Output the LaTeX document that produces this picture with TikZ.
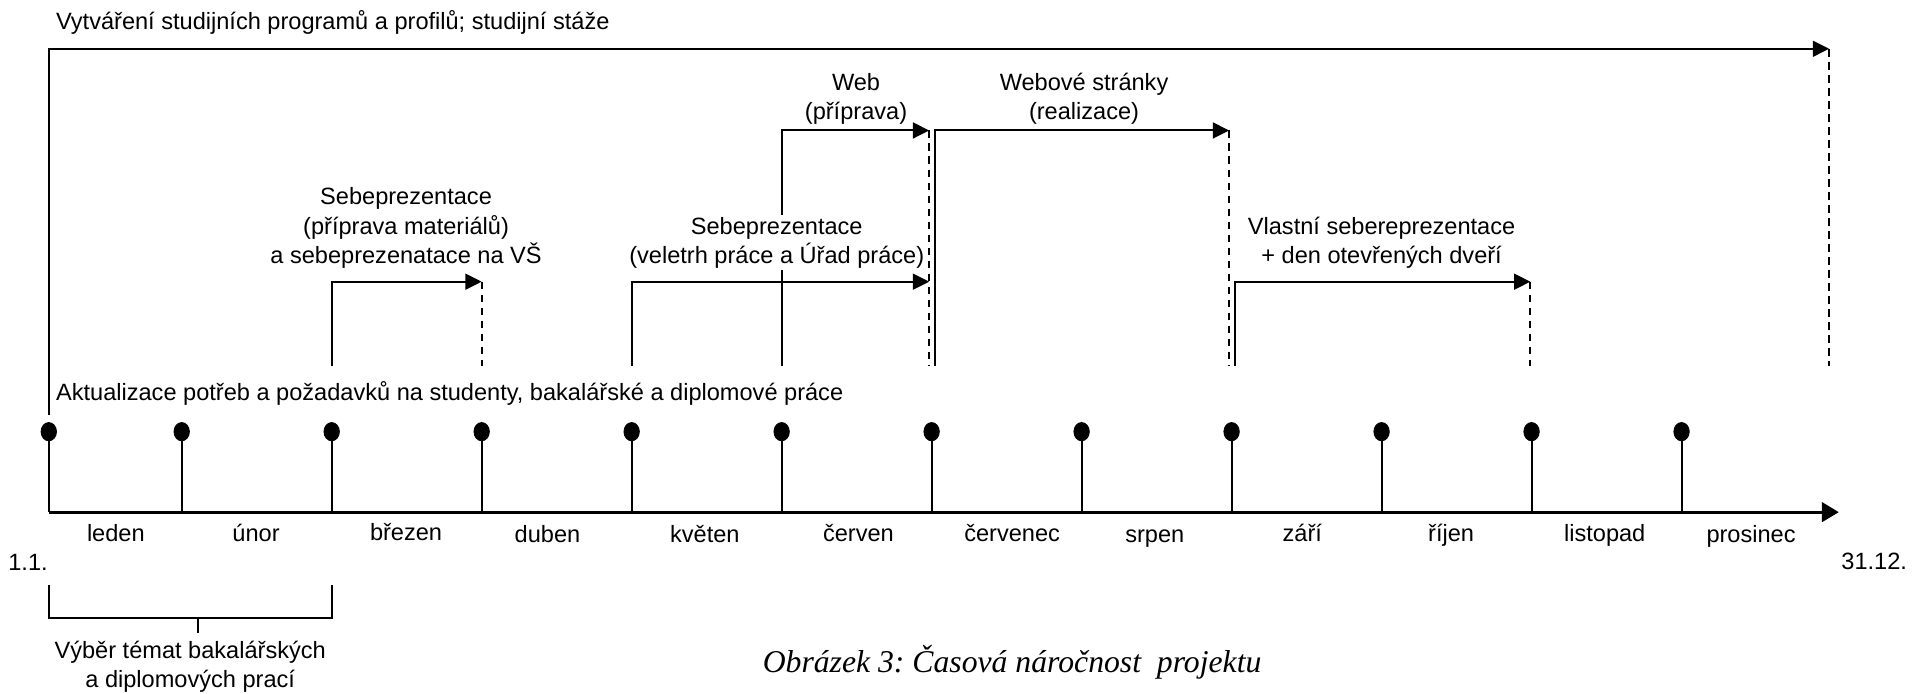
\documentclass[tikz,border=0pt]{standalone}
\usepackage{fontspec}
\setmainfont{Liberation Sans}
\newfontfamily\titulekfont{Liberation Serif}
\usetikzlibrary{arrows.meta,shapes.geometric}
\frenchspacing

\begin{document}
\begin{tikzpicture}[x=0.6pt,y=-0.6pt]
\tikzset{popis/.style={font=\fontsize{11.6}{14.4}\selectfont, align=center, inner sep=1pt},
  tecka/.style={draw, fill, ellipse, minimum width=7.6pt, minimum height=9pt, inner sep=0pt},
  sipka/.style={line width=1pt, -{Triangle[length=8pt,width=7.8pt]}},
  carka/.style={line width=1.1pt, dash pattern=on 3.8pt off 2.6pt},
  osa/.style={line width=1.6pt, -{Triangle[length=8.4pt,width=9.6pt]}},
  noha/.style={line width=1pt}}
\useasboundingbox (0,0) rectangle (1568,569);
\coordinate (A0) at (40,420);
\coordinate (A1) at (149,420);
\coordinate (A2) at (272,420);
\coordinate (A3) at (395,420);
\coordinate (A4) at (518,420);
\coordinate (A5) at (641,420);
\coordinate (A6) at (764,420);
\coordinate (A7) at (887,420);
\coordinate (A8) at (1010,420);
\coordinate (A9) at (1133,420);
\coordinate (A10) at (1256,420);
\coordinate (A11) at (1379,420);
\coordinate (K) at (1508,420);
\node[tecka] (D0) at (40,354) {};
\node[tecka] (D1) at (149,354) {};
\node[tecka] (D2) at (272,354) {};
\node[tecka] (D3) at (395,354) {};
\node[tecka] (D4) at (518,354) {};
\node[tecka] (D5) at (641,354) {};
\node[tecka] (D6) at (764,354) {};
\node[tecka] (D7) at (887,354) {};
\node[tecka] (D8) at (1010,354) {};
\node[tecka] (D9) at (1133,354) {};
\node[tecka] (D10) at (1256,354) {};
\node[tecka] (D11) at (1379,354) {};
\draw[osa] (A0) -- (K);
\draw[noha] (D0) -- (A0);
\draw[noha] (D1) -- (A1);
\draw[noha] (D2) -- (A2);
\draw[noha] (D3) -- (A3);
\draw[noha] (D4) -- (A4);
\draw[noha] (D5) -- (A5);
\draw[noha] (D6) -- (A6);
\draw[noha] (D7) -- (A7);
\draw[noha] (D8) -- (A8);
\draw[noha] (D9) -- (A9);
\draw[noha] (D10) -- (A10);
\draw[noha] (D11) -- (A11);
\coordinate (B0) at (40,340);
\coordinate (E0) at (1500,40);
\coordinate (F0) at (1500,300);
\coordinate (B1) at (272,300);
\coordinate (E1) at (395,231);
\coordinate (F1) at (395,300);
\coordinate (B2) at (518,300);
\coordinate (E2) at (762,231);
\coordinate (F2) at (762,300);
\coordinate (B3) at (641,300);
\coordinate (E3) at (762,107);
\coordinate (B4) at (767,300);
\coordinate (E4) at (1008,107);
\coordinate (F4) at (1008,300);
\coordinate (B5) at (1013,300);
\coordinate (E5) at (1255,231);
\coordinate (F5) at (1255,300);
\draw[sipka] (B0) |- (E0);
\draw[carka] (E0) -- (F0);
\draw[sipka] (B1) |- (E1);
\draw[carka] (E1) -- (F1);
\draw[sipka] (B2) |- (E2);
\draw[sipka] (B3) |- (E3);
\draw[carka] (E3) -- (F2);
\draw[sipka] (B4) |- (E4);
\draw[carka] (E4) -- (F4);
\draw[sipka] (B5) |- (E5);
\draw[carka] (E5) -- (F5);
\coordinate (Z1) at (40,480);
\coordinate (Z2) at (272,480);
\coordinate (Z3) at (162,507);
\coordinate (Z4) at (162,519);
\draw[noha] (Z1) |- (Z3) -| (Z2);
\draw[noha] (Z3) -- (Z4);
\node[popis, anchor=west] (T0) at (44,18) {Vytváření studijních programů a profilů; studijní stáže};
\node[popis, anchor=west] (T1) at (44,323) {Aktualizace potřeb a požadavků na studenty, bakalářské a diplomové práce};
\node[popis] (S1) at (333,187) {Sebeprezentace\\(příprava materiálů)\\a sebeprezenatace na VŠ};
\node[popis, fill=white] (S2) at (637,199) {Sebeprezentace\\(veletrh práce a Úřad práce)};
\node[popis] (W1) at (702,81) {Web\\(příprava)};
\node[popis] (W2) at (889,81) {Webové stránky\\(realizace)};
\node[popis] (V1) at (1133,199) {Vlastní sebereprezentace\\+ den otevřených dveří};
\node[popis, anchor=base] (M1) at (95,444) {leden};
\node[popis, anchor=base] (M2) at (210,444) {únor};
\node[popis, anchor=base] (M3) at (333,443) {březen};
\node[popis, anchor=base] (M4) at (449,445) {duben};
\node[popis, anchor=base] (M5) at (578,445) {květen};
\node[popis, anchor=base] (M6) at (704,444) {červen};
\node[popis, anchor=base] (M7) at (830,444) {červenec};
\node[popis, anchor=base] (M8) at (947,445) {srpen};
\node[popis, anchor=base] (M9) at (1068,444) {září};
\node[popis, anchor=base] (M10) at (1190,444) {říjen};
\node[popis, anchor=base] (M11) at (1316,444) {listopad};
\node[popis, anchor=base] (M12) at (1436,445) {prosinec};
\node[popis] (P0) at (23,461) {1.1.};
\node[popis] (P1) at (1537,460) {31.12.};
\node[popis] (VT) at (156,547) {Výběr témat bakalářských\\a diplomových prací};
\node[font=\titulekfont\itshape\fontsize{15.6}{18}\selectfont] (OB) at (830,543) {Obrázek 3: Časová náročnost\ \ projektu};
\end{tikzpicture}
\end{document}
